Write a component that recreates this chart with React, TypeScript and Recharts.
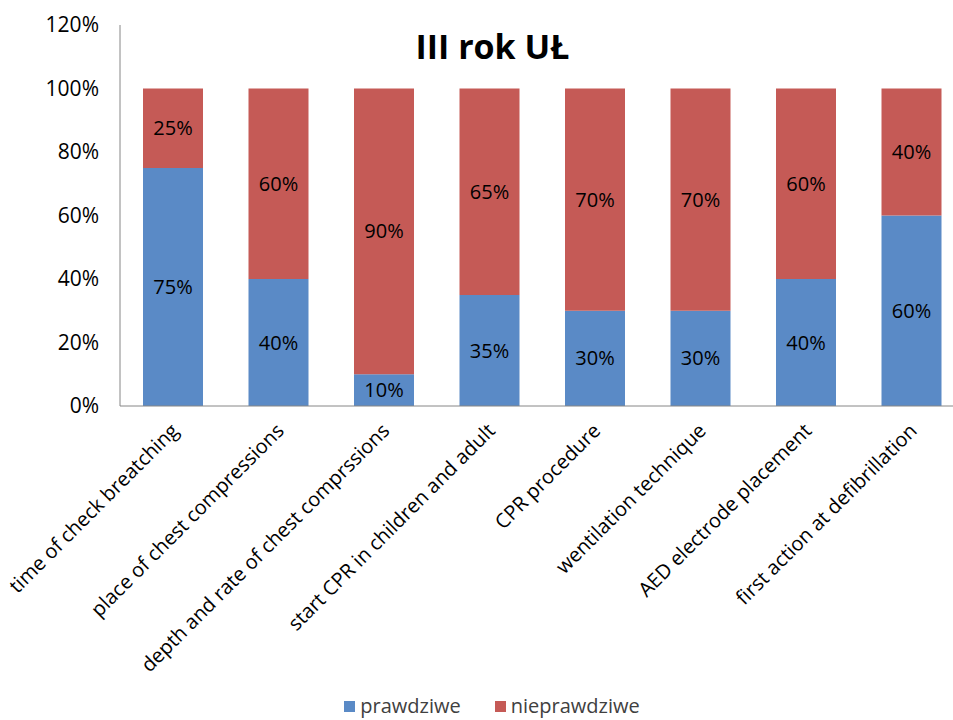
import React from 'react';
import { BarChart, Bar, XAxis, YAxis, Legend, LabelList } from 'recharts';

const categories = [
  'time of check breatching',
  'place of chest compressions',
  'depth and rate of chest comprssions',
  'start CPR in children and adult',
  'CPR procedure',
  'wentilation technique',
  'AED electrode placement',
  'first action at defibrillation',
];
const prawdziwe = [75, 40, 10, 35, 30, 30, 40, 60];
const nieprawdziwe = [25, 60, 90, 65, 70, 70, 60, 40];
const yTicks = [0, 20, 40, 60, 80, 100, 120];

const data = categories.map((name, i) => ({
  name,
  prawdziwe: prawdziwe[i],
  nieprawdziwe: nieprawdziwe[i],
}));

const FONT = '"Open Sans", sans-serif';
const BLUE = '#5A8AC6';
const RED = '#C55A56';
const seriesOrder = ['prawdziwe', 'nieprawdziwe'];

// rotated category labels, anchored at their end just under the bar
const AngledTick = (props: any) => {
  const { x, y, payload } = props;
  const tx = x + 7;
  const ty = y + 24;
  return (
    <text
      x={tx}
      y={ty}
      transform={`rotate(-45, ${tx}, ${ty})`}
      textAnchor="end"
      fill="#000"
      fontSize={20}
      fontFamily={FONT}
    >
      {payload.value}
    </text>
  );
};

// legend keeps the series order (recharts would sort it by name)
const LegendContent = (props: any) => {
  const items = [...(props.payload || [])].sort(
    (a: any, b: any) => seriesOrder.indexOf(a.value) - seriesOrder.indexOf(b.value)
  );
  return (
    <div
      style={{
        display: 'flex',
        justifyContent: 'center',
        gap: 34,
        position: 'relative',
        left: 10,
        fontFamily: FONT,
        fontSize: 20,
        lineHeight: '26px',
        color: '#404040',
      }}
    >
      {items.map((it: any) => (
        <div key={it.value} style={{ display: 'flex', alignItems: 'center', gap: 5 }}>
          <span style={{ width: 11, height: 11, background: it.color, display: 'inline-block' }} />
          <span>{it.value}</span>
        </div>
      ))}
    </div>
  );
};

export default function App() {
  return (
    <div style={{ position: 'absolute', top: 0, left: 0, width: 953, height: 720, overflow: 'hidden', background: '#fff', fontFamily: FONT }}>
      <div
        style={{
          position: 'absolute',
          top: 24,
          left: 5,
          width: 975,
          textAlign: 'center',
          fontWeight: 700,
          fontSize: 34,
          color: '#000',
          lineHeight: '44px',
          zIndex: 2,
        }}
      >
        III rok UŁ
      </div>
      <BarChart
        width={975}
        height={720}
        data={data}
        margin={{ top: 25, right: 11, left: 0, bottom: 1 }}
        barSize={60}
      >
        <YAxis
          width={120}
          domain={[0, 120]}
          ticks={yTicks}
          tickFormatter={(v: number) => `${v}%`}
          tickLine={false}
          tickSize={0}
          tickMargin={21}
          axisLine={{ stroke: '#868686' }}
          tick={{ fill: '#000', fontSize: 21, fontFamily: FONT }}
          interval={0}
        />
        <XAxis
          dataKey="name"
          height={287}
          tickLine={false}
          tickSize={0}
          axisLine={{ stroke: '#868686' }}
          tick={<AngledTick />}
          interval={0}
        />
        <Legend verticalAlign="bottom" content={<LegendContent />} />
        <Bar dataKey="prawdziwe" stackId="a" fill={BLUE} isAnimationActive={false}>
          <LabelList
            dataKey="prawdziwe"
            position="center"
            formatter={(v: any) => `${v}%`}
            fill="#000"
            fontSize={20}
            fontFamily={FONT}
          />
        </Bar>
        <Bar dataKey="nieprawdziwe" stackId="a" fill={RED} isAnimationActive={false}>
          <LabelList
            dataKey="nieprawdziwe"
            position="center"
            formatter={(v: any) => `${v}%`}
            fill="#000"
            fontSize={20}
            fontFamily={FONT}
          />
        </Bar>
      </BarChart>
    </div>
  );
}
